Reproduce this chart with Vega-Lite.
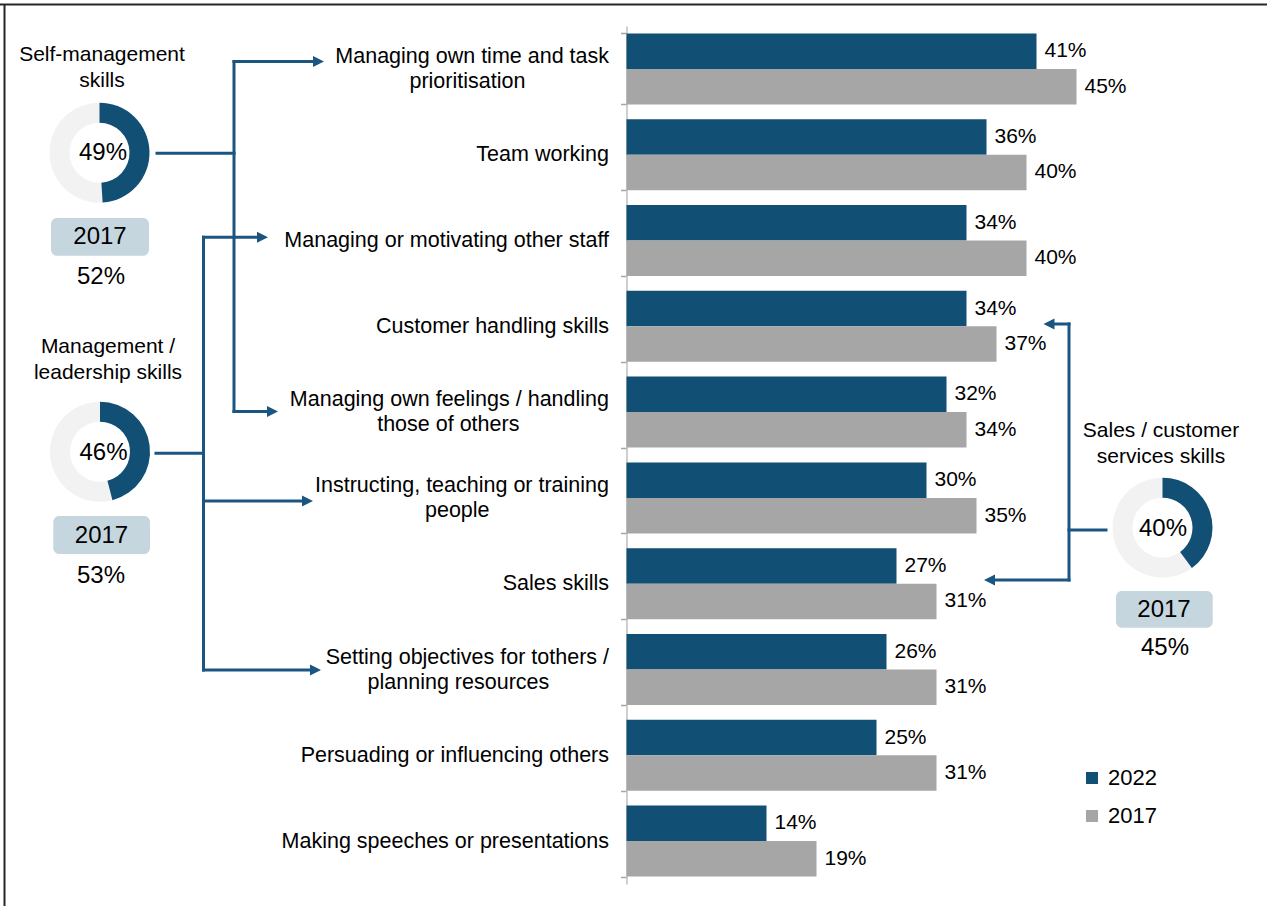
{
  "$schema": "https://vega.github.io/schema/vega-lite/v6.json",
  "width": 1267,
  "height": 906,
  "autosize": {"type": "none"},
  "padding": 0,
  "background": "white",
  "config": {"view": {"stroke": null}, "font": "Liberation Sans", "text": {"font": "Liberation Sans"}},
  "datasets": {
    "skills": [
      {"skill": "Managing own time and task\nprioritisation\u00a0\u00a0\u00a0\u00a0\u00a0\u00a0\u00a0\u00a0\u00a0\u00a0\u00a0\u00a0\u00a0\u00a0\u200b", "year": "2022", "value": 0.41},
      {"skill": "Managing own time and task\nprioritisation\u00a0\u00a0\u00a0\u00a0\u00a0\u00a0\u00a0\u00a0\u00a0\u00a0\u00a0\u00a0\u00a0\u00a0\u200b", "year": "2017", "value": 0.45},
      {"skill": "Team working", "year": "2022", "value": 0.36},
      {"skill": "Team working", "year": "2017", "value": 0.40},
      {"skill": "Managing or motivating other staff", "year": "2022", "value": 0.34},
      {"skill": "Managing or motivating other staff", "year": "2017", "value": 0.40},
      {"skill": "Customer handling skills", "year": "2022", "value": 0.34},
      {"skill": "Customer handling skills", "year": "2017", "value": 0.37},
      {"skill": "Managing own feelings / handling\nthose of others\u00a0\u00a0\u00a0\u00a0\u00a0\u00a0\u00a0\u00a0\u00a0\u00a0\u00a0\u00a0\u00a0\u00a0\u00a0\u200b", "year": "2022", "value": 0.32},
      {"skill": "Managing own feelings / handling\nthose of others\u00a0\u00a0\u00a0\u00a0\u00a0\u00a0\u00a0\u00a0\u00a0\u00a0\u00a0\u00a0\u00a0\u00a0\u00a0\u200b", "year": "2017", "value": 0.34},
      {"skill": "Instructing, teaching or training\npeople\u00a0\u00a0\u00a0\u00a0\u00a0\u00a0\u00a0\u00a0\u00a0\u00a0\u00a0\u00a0\u00a0\u00a0\u00a0\u00a0\u00a0\u00a0\u00a0\u00a0\u200b", "year": "2022", "value": 0.30},
      {"skill": "Instructing, teaching or training\npeople\u00a0\u00a0\u00a0\u00a0\u00a0\u00a0\u00a0\u00a0\u00a0\u00a0\u00a0\u00a0\u00a0\u00a0\u00a0\u00a0\u00a0\u00a0\u00a0\u00a0\u200b", "year": "2017", "value": 0.35},
      {"skill": "Sales skills", "year": "2022", "value": 0.27},
      {"skill": "Sales skills", "year": "2017", "value": 0.31},
      {"skill": "Setting objectives for tothers /\nplanning resources\u00a0\u00a0\u00a0\u00a0\u00a0\u00a0\u00a0\u00a0\u00a0\u00a0\u200b", "year": "2022", "value": 0.26},
      {"skill": "Setting objectives for tothers /\nplanning resources\u00a0\u00a0\u00a0\u00a0\u00a0\u00a0\u00a0\u00a0\u00a0\u00a0\u200b", "year": "2017", "value": 0.31},
      {"skill": "Persuading or influencing others", "year": "2022", "value": 0.25},
      {"skill": "Persuading or influencing others", "year": "2017", "value": 0.31},
      {"skill": "Making speeches or presentations", "year": "2022", "value": 0.14},
      {"skill": "Making speeches or presentations", "year": "2017", "value": 0.19}
    ],
    "donuts": [
      {"group": "self", "share": 0.49},
      {"group": "lead", "share": 0.46},
      {"group": "sales", "share": 0.40}
    ],
    "connectors": [
      {"x": -0.4695, "x2": -0.3925, "y": 1.4837, "y2": 1.4837},
      {"x": -0.3925, "x2": -0.3925, "y": 0.4138, "y2": 4.4930},
      {"x": -0.3925, "x2": -0.3085, "y": 0.4138, "y2": 0.4138},
      {"x": -0.3925, "x2": -0.3545, "y": 4.4930, "y2": 4.4930},
      {"x": -0.4705, "x2": -0.4230, "y": 4.9802, "y2": 4.9802},
      {"x": -0.4230, "x2": -0.4230, "y": 2.4627, "y2": 7.5058},
      {"x": -0.4230, "x2": -0.3645, "y": 2.4627, "y2": 2.4627},
      {"x": -0.4230, "x2": -0.3195, "y": 5.5361, "y2": 5.5361},
      {"x": -0.4230, "x2": -0.3115, "y": 7.5058, "y2": 7.5058},
      {"x": 0.4795, "x2": 0.4425, "y": 5.8741, "y2": 5.8741},
      {"x": 0.4425, "x2": 0.4425, "y": 3.4732, "y2": 6.4569},
      {"x": 0.4425, "x2": 0.4230, "y": 3.4732, "y2": 3.4732},
      {"x": 0.4425, "x2": 0.3635, "y": 6.4569, "y2": 6.4569}
    ],
    "heads": [
      {"x": -0.3025, "y": 0.4138, "dir": "right"},
      {"x": -0.3485, "y": 4.4930, "dir": "right"},
      {"x": -0.3585, "y": 2.4627, "dir": "right"},
      {"x": -0.3135, "y": 5.5361, "dir": "right"},
      {"x": -0.3055, "y": 7.5058, "dir": "right"},
      {"x": 0.4170, "y": 3.4732, "dir": "left"},
      {"x": 0.3575, "y": 6.4569, "dir": "left"}
    ],
    "boxes": [
      {"x": -0.5755, "x2": -0.4775, "y": 2.2389, "y2": 2.6783},
      {"x": -0.5732, "x2": -0.4765, "y": 5.7110, "y2": 6.1538},
      {"x": 0.4895, "x2": 0.5862, "y": 6.5851, "y2": 7.0128}
    ],
    "notes": [
      {"kind": "title", "x": -0.5245, "y": 0.3345, "text": "Self-management\nskills"},
      {"kind": "title", "x": -0.5185, "y": 3.7413, "text": "Management /\nleadership skills"},
      {"kind": "title", "x": 0.5345, "y": 4.7168, "text": "Sales / customer\nservices skills"},
      {"kind": "big", "x": -0.5235, "y": 1.4802, "text": "49%"},
      {"kind": "big", "x": -0.5230, "y": 4.9767, "text": "46%"},
      {"kind": "big", "x": 0.5365, "y": 5.8625, "text": "40%"},
      {"kind": "big", "x": -0.5265, "y": 2.4592, "text": "2017"},
      {"kind": "big", "x": -0.5255, "y": 2.9219, "text": "52%"},
      {"kind": "big", "x": -0.5250, "y": 5.9441, "text": "2017"},
      {"kind": "big", "x": -0.5255, "y": 6.4103, "text": "53%"},
      {"kind": "big", "x": 0.5375, "y": 6.8065, "text": "2017"},
      {"kind": "big", "x": 0.5385, "y": 7.2494, "text": "45%"}
    ]
  },
  "layer": [
    {
      "data": {"name": "skills"},
      "encoding": {
        "y": {
          "field": "skill", "type": "nominal", "sort": null,
          "scale": {"range": [26, 884], "paddingInner": 0.1725, "paddingOuter": 0.08625},
          "axis": {
            "orient": "left", "offset": -626.5, "title": null, "grid": false,
            "labelExpr": "split(datum.label, '\\n')",
            "labelOffset": {"expr": "indexof(datum.label, '\\n') >= 0 ? -12.5 : 0"},
            "labelFont": "Liberation Sans", "labelFontSize": 21.5, "labelColor": "#000000",
            "labelLineHeight": 25, "labelPadding": 12, "labelLimit": 0,
            "tickBand": "extent", "tickSize": 6, "tickColor": "#A6A6A6", "tickWidth": 1.5,
            "domainColor": "#BFBFBF", "domainWidth": 1.5
          }
        },
        "yOffset": {"field": "year", "type": "nominal", "sort": ["2022", "2017"], "scale": {"paddingInner": 0, "paddingOuter": 0}},
        "x": {"field": "value", "type": "quantitative", "scale": {"domain": [-0.6265, 0.6405], "nice": false, "zero": false}, "axis": null}
      },
      "layer": [
        {
          "mark": {"type": "bar"},
          "encoding": {
            "color": {
              "field": "year", "type": "nominal",
              "scale": {"domain": ["2022", "2017"], "range": ["#124F75", "#A6A6A6"]},
              "legend": {
                "title": null, "orient": "none", "legendX": 1081, "legendY": 767,
                "symbolType": "square", "symbolSize": 144, "symbolStrokeWidth": 0,
                "labelFont": "Liberation Sans", "labelFontSize": 22, "labelColor": "#000000",
                "rowPadding": 16, "labelOffset": 5
              }
            }
          }
        },
        {
          "mark": {"type": "text", "align": "left", "baseline": "middle", "dx": 8, "fontSize": 21, "color": "#000000"},
          "encoding": {"text": {"field": "value", "type": "quantitative", "format": ".0%"}}
        }
      ]
    },
    {
      "layer": [
        {
          "data": {"values": [{}]},
          "mark": {"type": "rule", "color": "#262626", "strokeWidth": 2},
          "encoding": {
            "x": {"datum": -0.6265, "type": "quantitative", "scale": {"domain": [-0.6265, 0.6405], "nice": false, "zero": false}, "axis": null},
            "x2": {"datum": 0.6405},
            "y": {"datum": -0.2506, "type": "quantitative", "scale": {"domain": [-0.30303, 10.25641], "nice": false, "zero": false, "reverse": true}, "axis": null}
          }
        },
        {
          "data": {"values": [{}]},
          "mark": {"type": "rule", "color": "#262626", "strokeWidth": 2},
          "encoding": {
            "x": {"datum": -0.6220, "type": "quantitative", "scale": {"domain": [-0.6265, 0.6405], "nice": false, "zero": false}, "axis": null},
            "y": {"datum": -0.2506, "type": "quantitative", "scale": {"domain": [-0.30303, 10.25641], "nice": false, "zero": false, "reverse": true}, "axis": null},
            "y2": {"datum": 10.25641}
          }
        },
        {
          "data": {"name": "connectors"},
          "mark": {"type": "rule", "color": "#1B5682", "strokeWidth": 3, "strokeCap": "square"},
          "encoding": {
            "x": {"field": "x", "type": "quantitative", "scale": {"domain": [-0.6265, 0.6405], "nice": false, "zero": false}, "axis": null},
            "x2": {"field": "x2"},
            "y": {"field": "y", "type": "quantitative", "scale": {"domain": [-0.30303, 10.25641], "nice": false, "zero": false, "reverse": true}, "axis": null},
            "y2": {"field": "y2"}
          }
        },
        {
          "data": {"name": "heads"},
          "mark": {"type": "point", "filled": true, "size": 121, "opacity": 1, "color": "#1B5682"},
          "encoding": {
            "x": {"field": "x", "type": "quantitative", "scale": {"domain": [-0.6265, 0.6405], "nice": false, "zero": false}, "axis": null},
            "y": {"field": "y", "type": "quantitative", "scale": {"domain": [-0.30303, 10.25641], "nice": false, "zero": false, "reverse": true}, "axis": null},
            "shape": {"field": "dir", "type": "nominal", "scale": {"domain": ["right", "left"], "range": ["M-2,-1L0,0L-2,1Z", "M2,-1L0,0L2,1Z"]}, "legend": null}
          }
        },
        {
          "data": {"name": "boxes"},
          "mark": {"type": "rect", "color": "#C6D6DF", "cornerRadius": 6},
          "encoding": {
            "x": {"field": "x", "type": "quantitative", "scale": {"domain": [-0.6265, 0.6405], "nice": false, "zero": false}, "axis": null},
            "x2": {"field": "x2"},
            "y": {"field": "y", "type": "quantitative", "scale": {"domain": [-0.30303, 10.25641], "nice": false, "zero": false, "reverse": true}, "axis": null},
            "y2": {"field": "y2"}
          }
        },
        {
          "data": {"values": [{}]},
          "mark": {"type": "arc", "radius": 50, "radius2": 30, "theta": 0, "theta2": 6.2832, "color": "#F2F2F2"},
          "encoding": {
            "x": {"datum": -0.5270, "type": "quantitative", "scale": {"domain": [-0.6265, 0.6405], "nice": false, "zero": false}, "axis": null},
            "y": {"datum": 1.4767, "type": "quantitative", "scale": {"domain": [-0.30303, 10.25641], "nice": false, "zero": false, "reverse": true}, "axis": null}
          }
        },
        {
          "data": {"values": [{}]},
          "mark": {"type": "arc", "radius": 50, "radius2": 30, "theta": 0, "theta2": 6.2832, "color": "#F2F2F2"},
          "encoding": {
            "x": {"datum": -0.5265, "type": "quantitative", "scale": {"domain": [-0.6265, 0.6405], "nice": false, "zero": false}, "axis": null},
            "y": {"datum": 4.9616, "type": "quantitative", "scale": {"domain": [-0.30303, 10.25641], "nice": false, "zero": false, "reverse": true}, "axis": null}
          }
        },
        {
          "data": {"values": [{}]},
          "mark": {"type": "arc", "radius": 50, "radius2": 30, "theta": 0, "theta2": 6.2832, "color": "#F2F2F2"},
          "encoding": {
            "x": {"datum": 0.5360, "type": "quantitative", "scale": {"domain": [-0.6265, 0.6405], "nice": false, "zero": false}, "axis": null},
            "y": {"datum": 5.8468, "type": "quantitative", "scale": {"domain": [-0.30303, 10.25641], "nice": false, "zero": false, "reverse": true}, "axis": null}
          }
        },
        {
          "data": {"name": "donuts"},
          "transform": [{"filter": "datum.group === 'self'"}],
          "mark": {"type": "arc", "radius": 50, "radius2": 30, "color": "#124F75"},
          "encoding": {
            "x": {"datum": -0.5270, "type": "quantitative", "scale": {"domain": [-0.6265, 0.6405], "nice": false, "zero": false}, "axis": null},
            "y": {"datum": 1.4767, "type": "quantitative", "scale": {"domain": [-0.30303, 10.25641], "nice": false, "zero": false, "reverse": true}, "axis": null},
            "theta": {"field": "share", "type": "quantitative", "stack": null, "scale": {"domain": [0, 1], "range": [0, 6.28319]}},
            "theta2": {"datum": 0}
          }
        },
        {
          "data": {"name": "donuts"},
          "transform": [{"filter": "datum.group === 'lead'"}],
          "mark": {"type": "arc", "radius": 50, "radius2": 30, "color": "#124F75"},
          "encoding": {
            "x": {"datum": -0.5265, "type": "quantitative", "scale": {"domain": [-0.6265, 0.6405], "nice": false, "zero": false}, "axis": null},
            "y": {"datum": 4.9616, "type": "quantitative", "scale": {"domain": [-0.30303, 10.25641], "nice": false, "zero": false, "reverse": true}, "axis": null},
            "theta": {"field": "share", "type": "quantitative", "stack": null, "scale": {"domain": [0, 1], "range": [0, 6.28319]}},
            "theta2": {"datum": 0}
          }
        },
        {
          "data": {"name": "donuts"},
          "transform": [{"filter": "datum.group === 'sales'"}],
          "mark": {"type": "arc", "radius": 50, "radius2": 30, "color": "#124F75"},
          "encoding": {
            "x": {"datum": 0.5360, "type": "quantitative", "scale": {"domain": [-0.6265, 0.6405], "nice": false, "zero": false}, "axis": null},
            "y": {"datum": 5.8468, "type": "quantitative", "scale": {"domain": [-0.30303, 10.25641], "nice": false, "zero": false, "reverse": true}, "axis": null},
            "theta": {"field": "share", "type": "quantitative", "stack": null, "scale": {"domain": [0, 1], "range": [0, 6.28319]}},
            "theta2": {"datum": 0}
          }
        },
        {
          "data": {"name": "notes"},
          "transform": [{"filter": "datum.kind === 'title'"}],
          "mark": {"type": "text", "align": "center", "baseline": "middle", "fontSize": 21, "lineHeight": 26, "lineBreak": "\n", "color": "#000000"},
          "encoding": {
            "x": {"field": "x", "type": "quantitative", "scale": {"domain": [-0.6265, 0.6405], "nice": false, "zero": false}, "axis": null},
            "y": {"field": "y", "type": "quantitative", "scale": {"domain": [-0.30303, 10.25641], "nice": false, "zero": false, "reverse": true}, "axis": null},
            "text": {"field": "text", "type": "nominal"}
          }
        },
        {
          "data": {"name": "notes"},
          "transform": [{"filter": "datum.kind === 'big'"}],
          "mark": {"type": "text", "align": "center", "baseline": "middle", "fontSize": 24, "color": "#000000"},
          "encoding": {
            "x": {"field": "x", "type": "quantitative", "scale": {"domain": [-0.6265, 0.6405], "nice": false, "zero": false}, "axis": null},
            "y": {"field": "y", "type": "quantitative", "scale": {"domain": [-0.30303, 10.25641], "nice": false, "zero": false, "reverse": true}, "axis": null},
            "text": {"field": "text", "type": "nominal"}
          }
        }
      ]
    }
  ],
  "resolve": {"scale": {"y": "independent", "color": "independent"}}
}
